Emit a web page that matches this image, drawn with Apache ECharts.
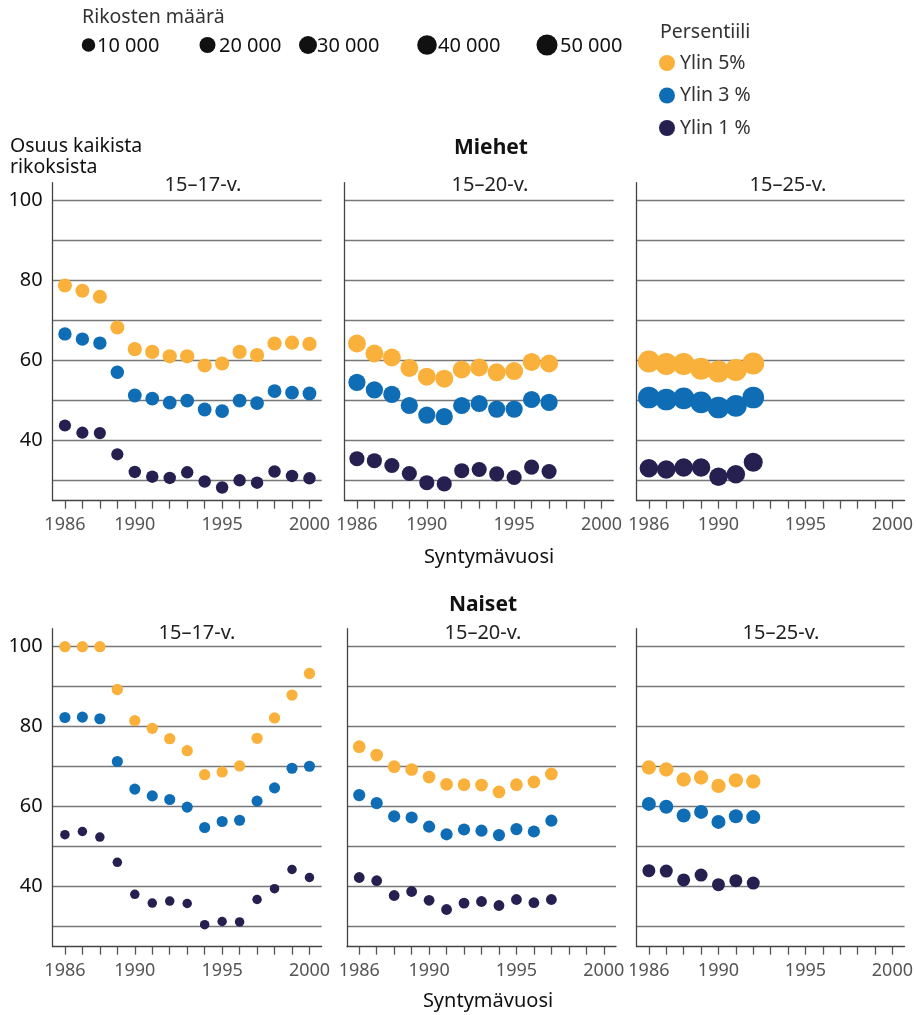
<!DOCTYPE html>
<html>
<head>
<meta charset="utf-8">
<script src="https://cdn.jsdelivr.net/npm/echarts@6/dist/echarts.min.js"></script>
<style>
html,body{margin:0;padding:0;background:#fff}
#chart{width:916px;height:1015px}
</style>
</head>
<body>
<div id="chart"></div>
<script>
// syntymävuodet
var years17 = [1986,1987,1988,1989,1990,1991,1992,1993,1994,1995,1996,1997,1998,1999,2000];
var years20 = [1986,1987,1988,1989,1990,1991,1992,1993,1994,1995,1996,1997];
var years25 = [1986,1987,1988,1989,1990,1991,1992];

// Miehet, osuus kaikista rikoksista (%)
var men17_top5 = [78.8,77.5,76.0,68.3,62.9,62.2,61.1,61.1,58.8,59.3,62.2,61.4,64.3,64.5,64.2];
var men17_top3 = [66.7,65.4,64.4,57.1,51.3,50.5,49.5,50.0,47.8,47.4,50.0,49.4,52.4,52.0,51.8];
var men17_top1 = [43.8,42.0,41.9,36.6,32.2,31.0,30.7,32.1,29.8,28.3,30.1,29.5,32.3,31.2,30.6];
var men20_top5 = [64.3,61.8,60.8,58.2,56.0,55.5,57.8,58.3,57.1,57.4,59.7,59.3];
var men20_top3 = [54.6,52.7,51.6,48.8,46.4,46.0,48.8,49.3,47.9,47.9,50.3,49.6];
var men20_top1 = [35.5,35.0,33.8,31.8,29.5,29.2,32.5,32.8,31.7,30.8,33.4,32.3];
var men25_top5 = [59.8,59.2,59.2,58.0,57.3,57.7,59.3];
var men25_top3 = [50.8,50.3,50.6,49.6,48.3,48.7,50.8];
var men25_top1 = [33.1,32.8,33.3,33.3,31.0,31.6,34.6];

// Naiset
var wom17_top5 = [100,100,100,89.3,81.5,79.6,77.0,74.0,68.0,68.7,70.2,77.1,82.2,87.9,93.3];
var wom17_top3 = [82.3,82.4,82.0,71.3,64.4,62.7,61.8,59.9,54.8,56.3,56.6,61.4,64.7,69.6,70.1];
var wom17_top1 = [53.0,53.8,52.4,46.1,38.1,35.9,36.4,35.8,30.5,31.3,31.2,36.8,39.5,44.3,42.3];
var wom20_top5 = [75.0,72.9,70.0,69.3,67.4,65.6,65.5,65.4,63.7,65.5,66.2,68.2];
var wom20_top3 = [62.9,60.9,57.6,57.3,55.0,53.1,54.3,54.0,52.9,54.4,53.8,56.5];
var wom20_top1 = [42.3,41.5,37.8,38.8,36.6,34.3,35.9,36.3,35.3,36.8,36.0,36.8];
var wom25_top5 = [69.8,69.3,66.8,67.3,65.2,66.6,66.3];
var wom25_top3 = [60.7,60.0,57.8,58.7,56.2,57.6,57.4];
var wom25_top1 = [44.0,43.9,41.7,42.9,40.5,41.5,40.9];

// rikosten määrä (pallon koko)
var men17_cnt5 = [11700,11700,11700,11700,12600,12600,12600,12600,12600,12600,12600,12600,12600,12600,12600];
var men17_cnt3 = [9700,9700,9700,9700,11000,11000,11000,11000,11000,11000,11000,11000,11000,11000,11000];
var men17_cnt1 = [6200,6200,6200,6200,6900,6900,6900,6900,6900,6900,6900,6900,6900,6900,6900];
var men20_cnt5 = [30000,30000,30000,30000,30000,30000,30000,30000,30000,30000,30000,30000];
var men20_cnt3 = [26000,26000,26000,26000,26000,26000,26000,26000,26000,26000,26000,26000];
var men20_cnt1 = [16000,16000,16000,16000,16000,16000,16000,16000,16000,16000,16000,16000];
var men25_cnt5 = [57000,57000,57000,57000,57000,57000,57000];
var men25_cnt3 = [55000,55000,55000,55000,55000,55000,55000];
var men25_cnt1 = [33000,33000,33000,33000,33000,33000,36000];
var wom17_cnt5 = [4100,4100,4100,4100,4100,4100,4100,4100,4100,4100,4100,4100,4100,4100,4100];
var wom17_cnt3 = [3700,3700,3700,3700,3700,3700,3700,3700,3700,3700,3700,3700,3700,3700,3700];
var wom17_cnt1 = [1200,1200,1200,1200,1200,1200,1200,1200,1200,1200,1200,1200,1200,1200,1200];
var wom20_cnt5 = [7500,7500,7500,7500,7500,7500,7500,7500,7500,7500,7500,7500];
var wom20_cnt3 = [6200,6200,6200,6200,6200,6200,6200,6200,6200,6200,6200,6200];
var wom20_cnt1 = [3100,3100,3100,3100,3100,3100,3100,3100,3100,3100,3100,3100];
var wom25_cnt5 = [12800,12800,12800,12800,12800,12800,12800];
var wom25_cnt3 = [11700,11700,11700,11700,11700,11700,11700];
var wom25_cnt1 = [8400,8400,8400,8400,8400,8400,8400];

var sizeLegend = [10000,20000,30000,40000,50000];
var sizeLegendLabels = ['10 000','20 000','30 000','40 000','50 000'];
var seriesNames = ['Ylin 5%','Ylin 3 %','Ylin 1 %'];
var colors = ['#f9b13b','#0f6db5','#262050'];
var xTicks = years17;
var xLabels = [1986,1990,1995,2000];
var yTicks = [30,40,50,60,70,80,90,100];
var yLabels = [40,60,80,100];

var FONT = '"Noto Sans", sans-serif';

// halkaisija rikosten määrästä
function dotSize(count) {
    return 7.4 + 0.061 * Math.sqrt(count);
}

var panels = [
    {left:52.7, top:182.7, sub:'15–17-v.', subX:203, subY:185, years:years17, vals:[men17_top5,men17_top3,men17_top1], cnts:[men17_cnt5,men17_cnt3,men17_cnt1], labels:true},
    {left:344.7, top:182.7, sub:'15–20-v.', subX:490, subY:185, years:years20, vals:[men20_top5,men20_top3,men20_top1], cnts:[men20_cnt5,men20_cnt3,men20_cnt1]},
    {left:636.7, top:182.7, sub:'15–25-v.', subX:788, subY:185, years:years25, vals:[men25_top5,men25_top3,men25_top1], cnts:[men25_cnt5,men25_cnt3,men25_cnt1]},
    {left:52.7, top:628.7, sub:'15–17-v.', subX:197, subY:633, years:years17, vals:[wom17_top5,wom17_top3,wom17_top1], cnts:[wom17_cnt5,wom17_cnt3,wom17_cnt1], labels:true},
    {left:347, top:628.7, sub:'15–20-v.', subX:483, subY:633, years:years20, vals:[wom20_top5,wom20_top3,wom20_top1], cnts:[wom20_cnt5,wom20_cnt3,wom20_cnt1]},
    {left:636.7, top:628.7, sub:'15–25-v.', subX:781, subY:633, years:years25, vals:[wom25_top5,wom25_top3,wom25_top1], cnts:[wom25_cnt5,wom25_cnt3,wom25_cnt1]}
];

var grids = [], xAxes = [], yAxes = [], series = [];
var graphics = [];

panels.forEach(function (p, i) {
    grids.push({left:p.left, top:p.top, width:269, height:318});
    xAxes.push({
        type:'value', gridIndex:i, min:1985.3, max:2000.7,
        axisLine:{show:true, lineStyle:{color:'#444', width:1.3}},
        axisTick:{show:true, length:8, customValues:xTicks, lineStyle:{color:'#555', width:1.3}},
        axisLabel:{customValues:xLabels, margin:15, color:'#555', fontSize:18, fontFamily:FONT,
            formatter:function (v) { return String(v); }},
        splitLine:{show:false}
    });
    yAxes.push({
        type:'value', gridIndex:i, min:25, max:104.5,
        axisLine:{show:true, lineStyle:{color:'#444', width:1.3}},
        axisTick:{show:false, customValues:yTicks},
        axisLabel:{show:!!p.labels, customValues:yLabels, margin:10, color:'#111', fontSize:20, fontFamily:FONT},
        splitLine:{show:true, lineStyle:{color:'#777', width:1.3}}
    });
    p.vals.forEach(function (vals, k) {
        series.push({
            type:'scatter', name:seriesNames[k], xAxisIndex:i, yAxisIndex:i,
            data:vals.map(function (v, j) { return [p.years[j], v, p.cnts[k][j]]; }),
            symbolSize:function (d) { return dotSize(d[2]); },
            itemStyle:{color:colors[k], opacity:1},
            z:3
        });
    });
    graphics.push({type:'text', x:p.subX, y:p.subY, style:{text:p.sub, align:'center', verticalAlign:'middle', font:'20px ' + FONT, fill:'#222'}});
});

// otsikot
graphics.push(
    {type:'text', x:82, y:17, style:{text:'Rikosten määrä', verticalAlign:'middle', font:'19.5px ' + FONT, fill:'#333'}},
    {type:'text', x:660, y:32, style:{text:'Persentiili', verticalAlign:'middle', font:'19.5px ' + FONT, fill:'#333'}},
    {type:'text', x:10, y:146, style:{text:'Osuus kaikista', verticalAlign:'middle', font:'19.5px ' + FONT, fill:'#111'}},
    {type:'text', x:10, y:167, style:{text:'rikoksista', verticalAlign:'middle', font:'19.5px ' + FONT, fill:'#111'}},
    {type:'text', x:491, y:148, style:{text:'Miehet', align:'center', verticalAlign:'middle', font:'bold 21px ' + FONT, fill:'#111'}},
    {type:'text', x:483, y:605, style:{text:'Naiset', align:'center', verticalAlign:'middle', font:'bold 21px ' + FONT, fill:'#111'}},
    {type:'text', x:489, y:557, style:{text:'Syntymävuosi', align:'center', verticalAlign:'middle', font:'20px ' + FONT, fill:'#111'}},
    {type:'text', x:488, y:1001, style:{text:'Syntymävuosi', align:'center', verticalAlign:'middle', font:'20px ' + FONT, fill:'#111'}}
);

// kokoselite
var legendX = [88.5, 207.5, 308, 427, 547];
var legendTextX = [97, 219, 317, 438, 560];
sizeLegend.forEach(function (v, i) {
    graphics.push({type:'circle', shape:{cx:legendX[i], cy:45, r:dotSize(v) / 2}, style:{fill:'#111'}});
    graphics.push({type:'text', x:legendTextX[i], y:46, style:{text:sizeLegendLabels[i], verticalAlign:'middle', font:'20px ' + FONT, fill:'#111'}});
});

var chart = echarts.init(document.getElementById('chart'));
chart.setOption({
    animation:false,
    backgroundColor:'#fff',
    legend:{
        data:seriesNames, orient:'vertical', left:659, top:53, padding:0, itemGap:12.5,
        icon:'circle', itemWidth:16, itemHeight:16,
        textStyle:{fontSize:19.5, fontFamily:FONT, color:'#333'}
    },
    grid:grids, xAxis:xAxes, yAxis:yAxes, series:series,
    graphic:graphics
});
</script>
</body>
</html>
